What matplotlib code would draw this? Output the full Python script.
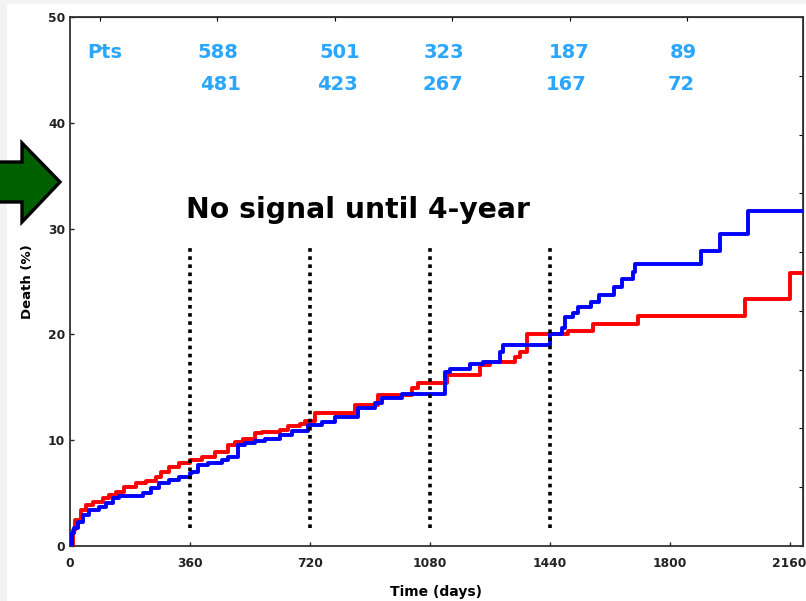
import matplotlib
matplotlib.use('Agg')
import matplotlib.pyplot as plt
from matplotlib.patches import Polygon, Rectangle
import numpy as np

# cumulative death, step curves (days, %)
red_days = [0, 9, 15, 33, 48, 69, 99, 117, 138, 162, 198, 228, 258, 273, 297, 327, 360,
            396, 435, 474, 495, 519, 555, 576, 630, 654, 690, 705, 735, 855, 924, 1026,
            1044, 1131, 1230, 1260, 1335, 1350, 1371, 1494, 1569, 1704, 2025, 2160]
red_pct = [0, 1.5, 2.5, 3.4, 3.9, 4.2, 4.5, 4.8, 5.1, 5.6, 6.0, 6.1, 6.5, 7.0, 7.5, 7.8, 8.1,
           8.4, 8.9, 9.5, 9.8, 10.1, 10.7, 10.8, 11.0, 11.3, 11.5, 11.8, 12.6, 13.3, 14.3, 14.9,
           15.4, 16.2, 17.1, 17.4, 17.9, 18.3, 20.0, 20.3, 21.0, 21.7, 23.3, 25.8]

blue_days = [0, 6, 12, 24, 39, 57, 87, 108, 129, 147, 219, 243, 267, 297, 327, 360, 366,
             384, 414, 456, 474, 504, 525, 555, 585, 630, 666, 714, 756, 795, 864, 915, 936,
             996, 1125, 1140, 1200, 1239, 1290, 1299, 1440, 1476, 1485, 1509, 1524, 1563,
             1587, 1632, 1656, 1689, 1695, 1893, 1950, 2034]
blue_pct = [0, 1.2, 1.7, 2.3, 2.9, 3.4, 3.7, 4.1, 4.5, 4.7, 5.0, 5.5, 6.0, 6.2, 6.5, 6.9, 7.0,
            7.7, 7.8, 8.1, 8.4, 9.5, 9.7, 9.9, 10.1, 10.5, 10.9, 11.4, 11.7, 12.2, 13.0, 13.5, 14.0,
            14.4, 16.4, 16.7, 17.2, 17.4, 18.3, 19.0, 20.0, 20.6, 21.6, 22.0, 22.6, 23.1,
            23.7, 24.5, 25.2, 25.9, 26.7, 27.9, 29.5, 31.7]

marks = [360, 720, 1080, 1440]
xticks = [0, 360, 720, 1080, 1440, 1800, 2160]
yticks = [0, 10, 20, 30, 40, 50]

# patients at risk
risk_x1 = [444, 810, 1122, 1497, 1842]
risk_row1 = ['588', '501', '323', '187', '89']
risk_x2 = [453, 804, 1119, 1488, 1836]
risk_row2 = ['481', '423', '267', '167', '72']

XMAX = 2200

fig = plt.figure(figsize=(8.06, 6.01), dpi=100)
W, H = 806, 601

# light grey slide edge
fig.patches.append(Rectangle((0, 0), 7 / W, 1, transform=fig.transFigure,
                             facecolor='#f3f3f3', edgecolor='none', zorder=0))
fig.patches.append(Rectangle((0, 1 - 4 / H), 1, 4 / H, transform=fig.transFigure,
                             facecolor='#f3f3f3', edgecolor='none', zorder=0))

ax = fig.add_axes([70 / W, 1 - 546 / H, 733 / W, 529 / H])

ax.step(np.append(red_days, XMAX), np.append(red_pct, red_pct[-1]), where='post',
        color='#ff0000', lw=2.8, zorder=3)
ax.step(np.append(blue_days, XMAX), np.append(blue_pct, blue_pct[-1]), where='post',
        color='#0000ff', lw=2.8, zorder=4)

ax.vlines(marks, 1.7, 28.5, colors='black', lw=2.6, linestyles=(0, (1, 1.25)), zorder=5)

ax.text(348, 31.8, 'No signal until 4-year', fontsize=20.3, fontweight='bold',
        va='center', ha='left', color='black')

blue_txt = '#2aa6ff'
ax.text(52, 46.6, 'Pts', fontsize=14, fontweight='bold', color=blue_txt, va='center', ha='left')
for x, s in zip(risk_x1, risk_row1):
    ax.text(x, 46.6, s, fontsize=14, fontweight='bold', color=blue_txt, va='center', ha='center')
for x, s in zip(risk_x2, risk_row2):
    ax.text(x, 43.6, s, fontsize=14, fontweight='bold', color=blue_txt, va='center', ha='center')

ax.set_xlim(0, XMAX)
ax.set_ylim(0, 50)
ax.set_xticks(xticks)
ax.set_yticks(yticks)
ax.tick_params(direction='in', length=3, width=1, labelsize=8.8, colors='#222222')
ax.tick_params(axis='x', pad=8)
for lab in ax.get_xticklabels() + ax.get_yticklabels():
    lab.set_fontweight('bold')
ax.set_xlabel('Time (days)', fontsize=10, fontweight='bold', labelpad=11)
ax.set_ylabel('Death (%)', fontsize=9.5, fontweight='bold', labelpad=10)
for sp in ax.spines.values():
    sp.set_linewidth(1.3)
    sp.set_color('#333333')

# extra tick rows on top and right
top = ax.secondary_xaxis('top')
top.set_xticks([90 + 352.5 * k for k in range(6)])
top.tick_params(direction='in', length=3, labeltop=False)
right = ax.secondary_yaxis('right')
right.set_yticks([50 * k / 9 for k in range(10)])
right.tick_params(direction='in', length=3, labelright=False)

# green pointer arrow
arrow_px = [(-5, 162), (22, 162), (22, 143), (60, 182), (22, 222), (22, 202), (-5, 202)]
fig.patches.append(Polygon([(x / W, 1 - y / H) for x, y in arrow_px], closed=True,
                           transform=fig.transFigure, facecolor='#006000',
                           edgecolor='black', lw=2.4, joinstyle='miter', zorder=10))

fig.savefig('out.png', dpi=100)
